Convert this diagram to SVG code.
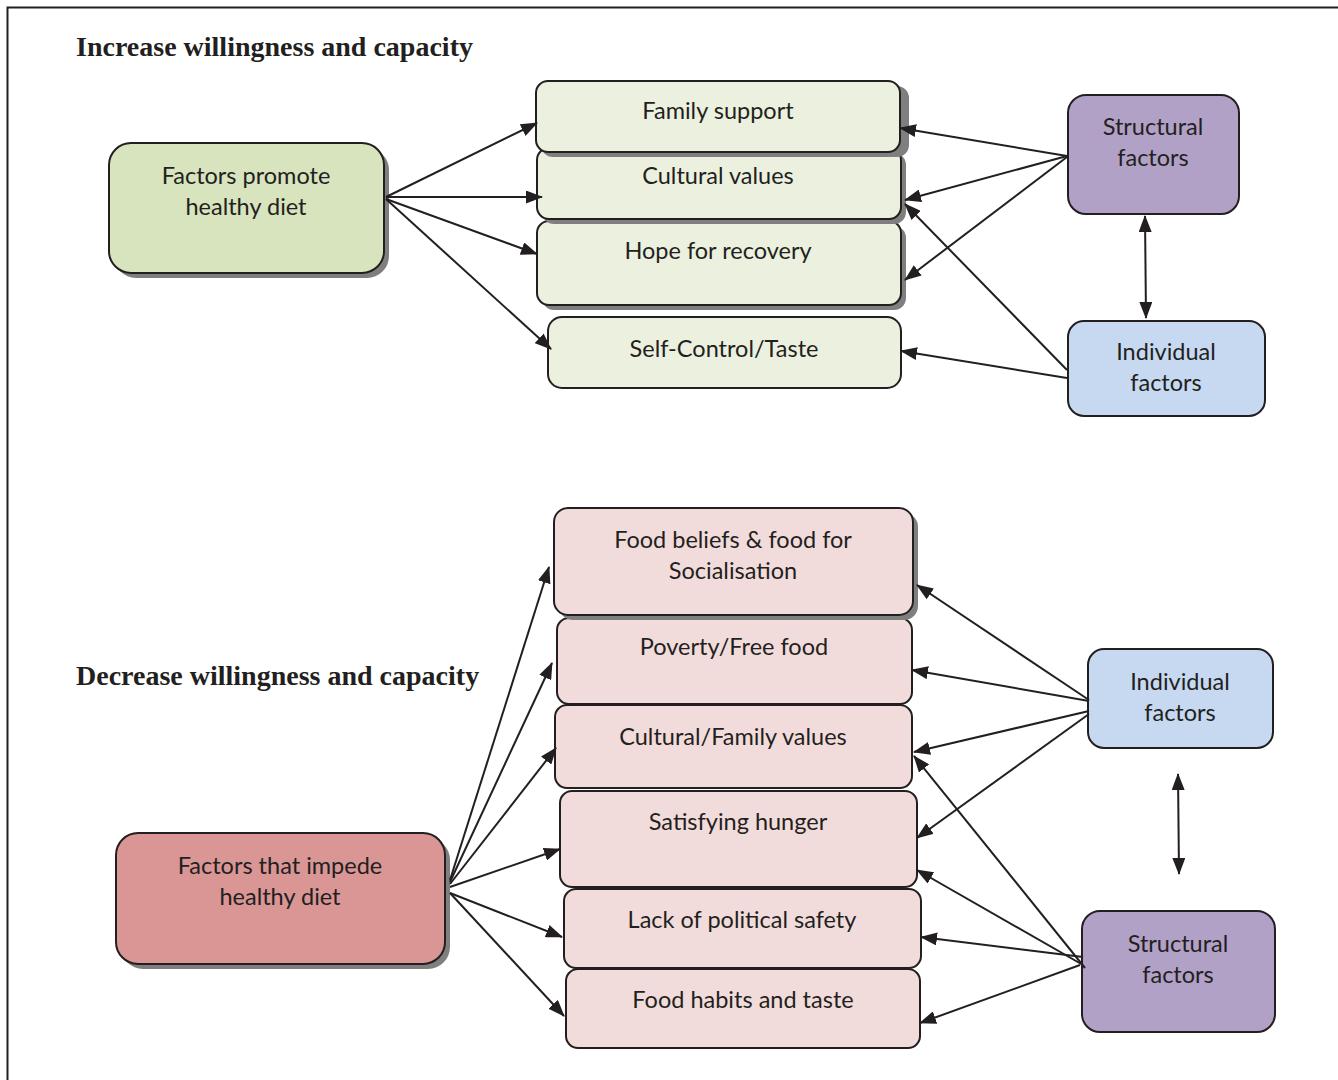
<svg xmlns="http://www.w3.org/2000/svg" width="1338" height="1080" viewBox="0 0 1338 1080">
<defs>
<marker id="ah" markerUnits="userSpaceOnUse" markerWidth="17" markerHeight="13" refX="16" refY="6.5" orient="auto-start-reverse" viewBox="0 0 17 13">
<path d="M0,0 L17,6.5 L0,13 z" fill="#231f20"/>
</marker>
</defs>
<style>
.t{font-family:Lato,"Open Sans","Liberation Sans",sans-serif;font-size:23.5px;fill:#231f20;text-anchor:middle}
.h{font-family:"Liberation Serif",serif;font-size:28px;font-weight:bold;fill:#231f20}
.b{stroke:#231f20;stroke-width:2}
.sh{fill:#7f7f7f}
.g1{fill:#d7e4bd}
.g2{fill:#ebf1de}
.p{fill:#b2a1c7}
.bl{fill:#c6d9f1}
.r1{fill:#d99694}
.r2{fill:#f2dcdb}
.c{stroke:#231f20;stroke-width:2;fill:none;marker-end:url(#ah)}
</style>
<rect width="1338" height="1080" fill="#fff"/>
<path d="M7.5,1080 V7.5 H1338" fill="none" stroke="#231f20" stroke-width="2"/>
<text class="h" x="76" y="56">Increase willingness and capacity</text>
<text class="h" x="76" y="685">Decrease willingness and capacity</text>

<g id="promote">
<rect class="sh" x="114" y="148" width="275" height="130" rx="22"/>
<rect class="g1 b" x="109" y="143" width="275" height="130" rx="22"/>
<text class="t" x="246" y="184">Factors promote</text>
<text class="t" x="246" y="215">healthy diet</text>
</g>
<g id="hope">
<rect class="sh" x="542" y="226" width="364" height="84" rx="12"/>
<rect class="g2 b" x="537" y="221" width="364" height="84" rx="12"/>
<text class="t" x="718" y="259">Hope for recovery</text>
</g>
<g id="cultural">
<rect class="sh" x="542" y="153" width="364" height="71" rx="12"/>
<rect class="g2 b" x="537" y="148" width="364" height="71" rx="12"/>
<text class="t" x="718" y="184">Cultural values</text>
</g>
<g id="family">
<rect class="sh" x="541" y="86" width="368" height="71" rx="12"/>
<rect class="g2 b" x="536" y="81" width="364" height="71" rx="12"/>
<text class="t" x="718" y="119">Family support</text>
</g>
<g id="selfcontrol">
<rect class="g2 b" x="548" y="317" width="353" height="71" rx="14"/>
<text class="t" x="724" y="357">Self-Control/Taste</text>
</g>
<g id="structural1">
<rect class="p b" x="1068" y="95" width="171" height="119" rx="18"/>
<text class="t" x="1153" y="135">Structural</text>
<text class="t" x="1153" y="166">factors</text>
</g>
<g id="individual1">
<rect class="bl b" x="1068" y="321" width="197" height="95" rx="16"/>
<text class="t" x="1166" y="360">Individual</text>
<text class="t" x="1166" y="391">factors</text>
</g>

<g id="impede">
<rect class="sh" x="121" y="838" width="329" height="131" rx="22"/>
<rect class="r1 b" x="116" y="833" width="329" height="131" rx="22"/>
<text class="t" x="280" y="874">Factors that impede</text>
<text class="t" x="280" y="905">healthy diet</text>
</g>
<g id="foodhabits">
<rect class="r2 b" x="566" y="969" width="354" height="79" rx="12"/>
<text class="t" x="743" y="1008">Food habits and taste</text>
</g>
<g id="political">
<rect class="r2 b" x="564" y="889" width="357" height="79" rx="12"/>
<text class="t" x="742" y="928">Lack of political safety</text>
</g>
<g id="hunger">
<rect class="r2 b" x="560" y="791" width="357" height="96" rx="12"/>
<text class="t" x="738" y="830">Satisfying hunger</text>
</g>
<g id="culturalfamily">
<rect class="r2 b" x="555" y="705" width="357" height="83" rx="12"/>
<text class="t" x="733" y="745">Cultural/Family values</text>
</g>
<g id="poverty">
<rect class="r2 b" x="557" y="618" width="355" height="86" rx="12"/>
<text class="t" x="734" y="655">Poverty/Free food</text>
</g>
<g id="beliefs">
<rect class="sh" x="559" y="513" width="359" height="107" rx="14"/>
<rect class="r2 b" x="554" y="508" width="359" height="107" rx="14"/>
<text class="t" x="733" y="548">Food beliefs &amp; food for</text>
<text class="t" x="733" y="579">Socialisation</text>
</g>
<g id="individual2">
<rect class="bl b" x="1088" y="649" width="185" height="99" rx="16"/>
<text class="t" x="1180" y="690">Individual</text>
<text class="t" x="1180" y="721">factors</text>
</g>
<g id="structural2">
<rect class="p b" x="1082" y="911" width="193" height="121" rx="18"/>
<text class="t" x="1178" y="952">Structural</text>
<text class="t" x="1178" y="983">factors</text>
</g>

<g id="connectors">
<line class="c" x1="386" y1="197" x2="537" y2="123"/>
<line class="c" x1="386" y1="197" x2="542" y2="197"/>
<line class="c" x1="386" y1="199" x2="537" y2="254"/>
<line class="c" x1="386" y1="199" x2="551" y2="349"/>
<line class="c" x1="1067" y1="156" x2="900" y2="128"/>
<line class="c" x1="1067" y1="156" x2="905" y2="200"/>
<line class="c" x1="1067" y1="157" x2="905" y2="280"/>
<line class="c" x1="1067" y1="378" x2="901" y2="351"/>
<line class="c" x1="1067" y1="370" x2="905" y2="204"/>
<line class="c" x1="1145" y1="216" x2="1146" y2="318" marker-start="url(#ah)"/>

<line class="c" x1="450" y1="880" x2="549" y2="567"/>
<line class="c" x1="450" y1="882" x2="552" y2="663"/>
<line class="c" x1="450" y1="884" x2="556" y2="748"/>
<line class="c" x1="450" y1="887" x2="560" y2="849"/>
<line class="c" x1="450" y1="893" x2="562" y2="937"/>
<line class="c" x1="450" y1="893" x2="564" y2="1016"/>
<line class="c" x1="1089" y1="700" x2="917" y2="585"/>
<line class="c" x1="1089" y1="701" x2="912" y2="670"/>
<line class="c" x1="1089" y1="711" x2="914" y2="752"/>
<line class="c" x1="1089" y1="714" x2="917" y2="838"/>
<line class="c" x1="1085" y1="968" x2="914" y2="756"/>
<line class="c" x1="1083" y1="965" x2="917" y2="870"/>
<line class="c" x1="1083" y1="957" x2="921" y2="937"/>
<line class="c" x1="1080" y1="965" x2="920" y2="1023"/>
<line class="c" x1="1178" y1="774" x2="1179" y2="874" marker-start="url(#ah)"/>
</g>
</svg>
